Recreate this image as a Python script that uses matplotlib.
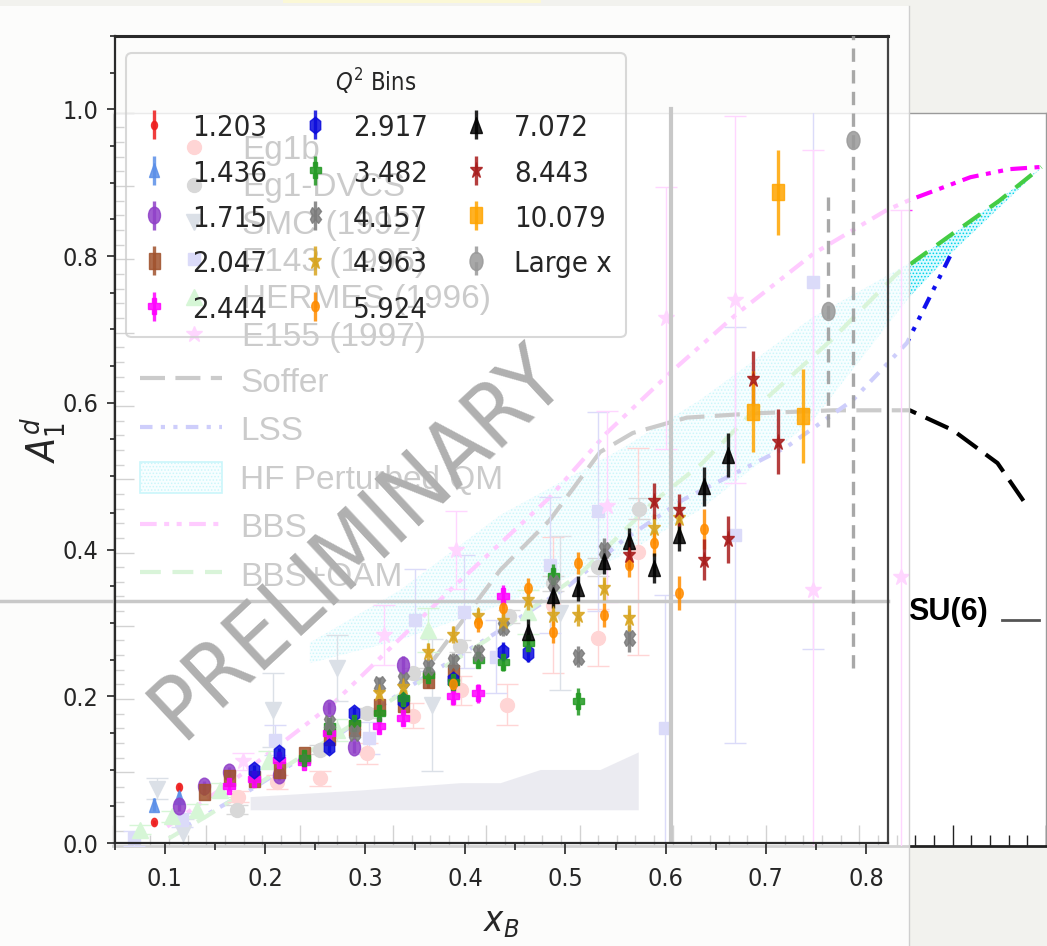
import matplotlib
matplotlib.use("Agg")
import matplotlib.pyplot as plt
from matplotlib import font_manager
from matplotlib.font_manager import FontProperties
from matplotlib.lines import Line2D
from matplotlib.markers import MarkerStyle
from matplotlib.patches import Patch, Rectangle
from matplotlib.ticker import MultipleLocator
from matplotlib.transforms import Affine2D

# ---------------- A1^d for each Q^2 bin: (x_B, A1, stat. error) ----------------
q2_labels = ['1.203', '1.436', '1.715', '2.047', '2.444', '2.917', '3.482',
             '4.157', '4.963', '5.924', '7.072', '8.443', '10.079', 'Large x']

bin_1p203 = [(0.089, 0.028, 0.004), (0.114, 0.076, 0.005)]
bin_1p436 = [(0.089, 0.052, 0.009), (0.114, 0.063, 0.008)]
bin_1p715 = [(0.114, 0.050, 0.006), (0.139, 0.078, 0.006), (0.164, 0.097, 0.006),
             (0.214, 0.093, 0.007), (0.264, 0.184, 0.008), (0.289, 0.131, 0.008),
             (0.338, 0.243, 0.012)]
bin_2p047 = [(0.139, 0.070, 0.005), (0.164, 0.088, 0.005), (0.189, 0.087, 0.006),
             (0.214, 0.100, 0.006), (0.239, 0.120, 0.007), (0.264, 0.145, 0.007),
             (0.289, 0.157, 0.008), (0.314, 0.186, 0.009), (0.338, 0.190, 0.010),
             (0.363, 0.222, 0.011), (0.388, 0.232, 0.013)]
bin_2p444 = [(0.164, 0.078, 0.006), (0.189, 0.087, 0.006), (0.214, 0.113, 0.007),
             (0.239, 0.110, 0.007), (0.264, 0.150, 0.008), (0.314, 0.159, 0.009),
             (0.338, 0.170, 0.010), (0.388, 0.200, 0.012), (0.413, 0.204, 0.013),
             (0.438, 0.336, 0.016)]
bin_2p917 = [(0.189, 0.100, 0.006), (0.214, 0.123, 0.007), (0.264, 0.131, 0.008),
             (0.289, 0.177, 0.009), (0.338, 0.195, 0.010), (0.388, 0.222, 0.012),
             (0.438, 0.261, 0.013), (0.463, 0.259, 0.012)]
bin_3p482 = [(0.239, 0.116, 0.007), (0.264, 0.159, 0.008), (0.289, 0.163, 0.008),
             (0.314, 0.177, 0.009), (0.338, 0.197, 0.010), (0.363, 0.229, 0.011),
             (0.388, 0.220, 0.011), (0.413, 0.250, 0.012), (0.438, 0.247, 0.013),
             (0.463, 0.272, 0.014), (0.488, 0.364, 0.016), (0.513, 0.193, 0.018)]
bin_4p157 = [(0.264, 0.163, 0.008), (0.289, 0.150, 0.008), (0.314, 0.217, 0.009),
             (0.338, 0.222, 0.010), (0.363, 0.240, 0.011), (0.388, 0.247, 0.012),
             (0.413, 0.259, 0.012), (0.438, 0.295, 0.013), (0.488, 0.354, 0.015),
             (0.513, 0.254, 0.014), (0.538, 0.400, 0.016), (0.563, 0.279, 0.018)]
bin_4p963 = [(0.314, 0.204, 0.009), (0.338, 0.213, 0.010), (0.363, 0.261, 0.011),
             (0.388, 0.284, 0.012), (0.413, 0.309, 0.012), (0.438, 0.302, 0.013),
             (0.463, 0.331, 0.014), (0.488, 0.311, 0.015), (0.513, 0.311, 0.015),
             (0.538, 0.347, 0.016), (0.563, 0.307, 0.018), (0.588, 0.429, 0.020),
             (0.613, 0.443, 0.021)]
bin_5p924 = [(0.388, 0.217, 0.010), (0.413, 0.300, 0.012), (0.438, 0.320, 0.013),
             (0.463, 0.347, 0.014), (0.488, 0.288, 0.015), (0.513, 0.382, 0.015),
             (0.538, 0.311, 0.016), (0.563, 0.379, 0.017), (0.588, 0.409, 0.018),
             (0.613, 0.341, 0.023), (0.638, 0.428, 0.027)]
bin_7p072 = [(0.463, 0.288, 0.018), (0.488, 0.338, 0.018), (0.513, 0.347, 0.017),
             (0.538, 0.384, 0.018), (0.563, 0.411, 0.019), (0.588, 0.375, 0.020),
             (0.613, 0.420, 0.022), (0.638, 0.486, 0.027), (0.662, 0.529, 0.030)]
bin_8p443 = [(0.563, 0.393, 0.020), (0.588, 0.466, 0.025), (0.613, 0.454, 0.022),
             (0.638, 0.386, 0.028), (0.662, 0.414, 0.032), (0.687, 0.633, 0.038),
             (0.712, 0.547, 0.044)]
bin_10p079 = [(0.687, 0.588, 0.055), (0.712, 0.887, 0.058), (0.737, 0.582, 0.064)]
bin_large_x = [(0.762, 0.725, 0.158), (0.787, 0.958, 0.720)]

q2_points = [bin_1p203, bin_1p436, bin_1p715, bin_2p047, bin_2p444, bin_2p917,
             bin_3p482, bin_4p157, bin_4p963, bin_5p924, bin_7p072, bin_8p443,
             bin_10p079, bin_large_x]

q2_colors = ['#ee1c1c', '#5b8fe8', '#9040c8', '#a0522d', '#ff00ff', '#0a0adc',
             '#229922', '#7a7a7a', '#d8a520', '#ff8c00', '#000000', '#a81c1c',
             '#ffa500', '#999999']
q2_markers = ['o', '^', 'o', 's', 'P', 'h', 'P', 'X', '*', 'o', '^', '*', 's', 'o']
q2_msizes = [6, 10, 12, 11, 12, 12, 11, 11, 13, 7.5, 12, 12, 12, 13]

SU6_LEVEL = 0.33     # SU(6) reference line
X_CUT = 0.605        # vertical guide

# ---------------- world data (x, A1, error) ----------------
eg1b = [(0.134, 0.067, 0.008), (0.176, 0.087, 0.010), (0.222, 0.092, 0.010),
        (0.272, 0.126, 0.014), (0.322, 0.177, 0.017), (0.373, 0.212, 0.020),
        (0.422, 0.192, 0.028), (0.472, 0.328, 0.093), (0.520, 0.284, 0.039),
        (0.563, 0.401, 0.141)]
eg1_dvcs = [(0.133, 0.049, 0.006), (0.222, 0.131, 0.006), (0.272, 0.181, 0.007),
            (0.322, 0.235, 0.008), (0.372, 0.272, 0.008), (0.424, 0.313, 0.009),
            (0.472, 0.358, 0.010), (0.520, 0.380, 0.012), (0.564, 0.460, 0.014)]
smc = [(0.047, 0.078, 0.014), (0.075, 0.017, 0.020), (0.171, 0.185, 0.050),
       (0.240, 0.242, 0.045), (0.342, 0.192, 0.090), (0.479, 0.317, 0.105)]
e143 = [(0.022, 0.010, 0.010), (0.074, 0.035, 0.010), (0.174, 0.144, 0.020),
        (0.274, 0.147, 0.022), (0.324, 0.308, 0.070), (0.376, 0.319, 0.077),
        (0.411, 0.258, 0.050), (0.468, 0.383, 0.093), (0.520, 0.456, 0.136),
        (0.592, 0.160, 0.182), (0.667, 0.424, 0.284), (0.750, 0.769, 0.500)]
hermes = [(0.029, 0.022, 0.006), (0.063, 0.040, 0.008), (0.090, 0.049, 0.008),
          (0.115, 0.076, 0.010), (0.167, 0.117, 0.012), (0.240, 0.158, 0.015),
          (0.338, 0.294, 0.030), (0.445, 0.319, 0.030)]
e155 = [(0.139, 0.115, 0.012), (0.290, 0.287, 0.041), (0.368, 0.403, 0.053),
        (0.529, 0.463, 0.130), (0.593, 0.720, 0.179), (0.667, 0.745, 0.250),
        (0.750, 0.349, 0.600), (0.845, 0.367, 0.500)]

world_sets = [eg1b, eg1_dvcs, smc, e143, hermes, e155]
world_labels = ['Eg1b', 'Eg1-DVCS', 'SMC (1992)', 'E143 (1995)', 'HERMES (1996)', 'E155 (1997)']
world_colors = ['#ff3030', '#404040', '#50698c', '#5050e6', '#37d637', '#ff37ff']
world_markers = ['o', 'o', 'v', 's', '^', '*']
world_msizes = [10, 10, 11, 9, 11, 12]

# ---------------- model curves ----------------
soffer_x = [0.343, 0.415, 0.468, 0.522, 0.557, 0.615, 0.690, 0.772, 0.854, 0.900, 0.948, 0.981]
soffer_y = [0.253, 0.376, 0.444, 0.537, 0.563, 0.584, 0.590, 0.594, 0.594, 0.567, 0.522, 0.461]

lss_x = [0.072, 0.147, 0.233, 0.329, 0.415, 0.487, 0.547, 0.611, 0.722, 0.793, 0.851, 0.899]
lss_y = [0.022, 0.076, 0.144, 0.226, 0.294, 0.353, 0.417, 0.472, 0.544, 0.608, 0.686, 0.809]

hf_x = [0.211, 0.308, 0.415, 0.543, 0.629, 0.750, 0.854, 0.899, 0.996]
hf_upper = [0.277, 0.349, 0.451, 0.540, 0.608, 0.721, 0.795, 0.833, 0.926]
hf_lower = [0.249, 0.281, 0.328, 0.394, 0.458, 0.580, 0.749, 0.809, 0.926]

bbs_x = [0.058, 0.129, 0.236, 0.364, 0.468, 0.529, 0.597, 0.669, 0.751, 0.829, 0.854, 0.919, 0.961, 0.995]
bbs_y = [0.026, 0.089, 0.194, 0.352, 0.475, 0.563, 0.645, 0.726, 0.808, 0.867, 0.881, 0.912, 0.923, 0.926]

bbs_oam_x = [0.06, 0.10, 0.20, 0.30, 0.40, 0.50, 0.58, 0.63, 0.70, 0.77, 0.84, 0.90, 0.95, 0.995]
bbs_oam_y = [0.01, 0.04, 0.12, 0.20, 0.28, 0.37, 0.47, 0.52, 0.61, 0.69, 0.78, 0.835, 0.88, 0.926]

syst_x = [0.147, 0.265, 0.372, 0.415, 0.458, 0.522, 0.563]
syst_top = [0.067, 0.076, 0.086, 0.086, 0.104, 0.104, 0.128]
SYST_BASE = 0.049

SU6_WORLD = 0.308
su6_mark_x = [0.953, 0.992]

# ---------------- fonts ----------------
installed = {(f.name, f.stretch) for f in font_manager.fontManager.ttflist}
family_names = {n for n, _ in installed}
if ('DejaVu Sans', 'condensed') in installed:
    plt.rcParams['font.family'] = 'DejaVu Sans'
    plt.rcParams['font.stretch'] = 'condensed'
elif 'Liberation Sans Narrow' in family_names:
    plt.rcParams['font.family'] = 'Liberation Sans Narrow'
plt.rcParams['hatch.linewidth'] = 0.7

TEXT = '#262626'
ARIAL = FontProperties(family='Liberation Sans', stretch='normal', size=24)

W, H = 1047, 946


def fig_rect(left, top, right, bottom):
    """pixel box, origin top-left -> [l, b, w, h] in figure fraction"""
    return [left / W, 1 - bottom / H, (right - left) / W, (bottom - top) / H]


def narrow(marker):
    return MarkerStyle(marker, transform=Affine2D().scale(0.72, 1.0))


fig = plt.figure(figsize=(W / 100, H / 100), dpi=100)
fig.patch.set_facecolor('#f2f2ee')

# ======== world-data plot underneath ========
axw = fig.add_axes(fig_rect(113, 112.7, 1046, 845.7), zorder=0)
axw.set_facecolor('white')
axw.set_xlim(0, 1)
axw.set_ylim(0, 1)
axw.xaxis.set_major_locator(MultipleLocator(0.1))
axw.xaxis.set_minor_locator(MultipleLocator(0.02))
axw.yaxis.set_major_locator(MultipleLocator(0.1))
axw.yaxis.set_minor_locator(MultipleLocator(0.02))
axw.tick_params(which='both', direction='in', colors='#222222', width=1,
                labelbottom=False, labelleft=False)
axw.tick_params(which='major', length=15)
axw.tick_params(which='minor', length=8)
axw.spines['bottom'].set_linewidth(2)
axw.spines['bottom'].set_color('#222222')
axw.spines['left'].set_color('#222222')
for side in ('top', 'right'):
    axw.spines[side].set_color('#9a9a9a')
    axw.spines[side].set_linewidth(1)

axw.fill_between(syst_x, SYST_BASE, syst_top, color='#a0a0be', lw=0, zorder=1)
hf = axw.fill_between(hf_x, hf_lower, hf_upper, facecolor='#dcfbff', edgecolor='#00d2ea',
                      hatch='.....', linewidth=0, zorder=1.5)
soffer, = axw.plot(soffer_x, soffer_y, color='black', lw=3, dashes=(6, 2.5), zorder=2)
lss, = axw.plot(lss_x, lss_y, color='#1010ee', lw=3, dashes=(3, 2, 1, 2, 1, 2), zorder=2)
bbs, = axw.plot(bbs_x, bbs_y, color='#ff00ff', lw=3, dashes=(4, 1.8, 1.2, 1.8, 1.2, 1.8), zorder=2)
bbs_oam, = axw.plot(bbs_oam_x, bbs_oam_y, color='#44cc44', lw=3, dashes=(5, 2.8), zorder=2)

for pts, col, mk, ms in zip(world_sets, world_colors, world_markers, world_msizes):
    x, y, e = zip(*pts)
    axw.errorbar(x, y, yerr=e, linestyle='none', marker=mk, ms=ms, color=col,
                 mec=col, elinewidth=1, capsize=8, capthick=1, zorder=3)

axw.plot(su6_mark_x, [SU6_WORLD, SU6_WORLD], color='#555555', lw=2)
axw.text(0.852, 0.319, 'SU(6)', fontproperties=FontProperties(family='Liberation Sans',
         weight='bold', size=22), ha='left', va='center', color='black')

data_handles = [Line2D([], [], linestyle='none', marker=mk, ms=ms, color=col)
                for col, mk, ms in zip(world_colors, world_markers, world_msizes)]
leg_data = axw.legend(data_handles, world_labels, loc='upper left',
                      bbox_to_anchor=(160.7 / W, 1 - 135 / H), bbox_transform=fig.transFigure,
                      frameon=False, borderpad=0, borderaxespad=0, handlelength=2.0,
                      handletextpad=0.44, labelspacing=0.19, prop=ARIAL)
axw.add_artist(leg_data)
hf_handle = Patch(facecolor='#dcfbff', edgecolor='#00d2ea', hatch='.....', lw=1.2)
axw.legend([soffer, lss, hf_handle, bbs, bbs_oam],
           ['Soffer', 'LSS', 'HF Perturbed QM', 'BBS', 'BBS+OAM'], loc='upper left',
           bbox_to_anchor=(140 / W, 1 - 365 / H), bbox_transform=fig.transFigure,
           frameon=False, borderpad=0, borderaxespad=0, handlelength=2.46,
           handleheight=1.05, handletextpad=0.54, labelspacing=0.44, prop=ARIAL)

# translucent sheet carrying the new results
fig.add_artist(Rectangle((0, 0), 909 / W, 1 - 6 / H, transform=fig.transFigure,
                         facecolor='white', edgecolor='none', alpha=0.8, zorder=1))
fig.add_artist(Line2D([909 / W, 909 / W], [0, 1 - 6 / H], transform=fig.transFigure,
                      color='#cfcfcf', lw=1, zorder=3))
fig.add_artist(Rectangle((283 / W, 1 - 3 / H), 258 / W, 3 / H, transform=fig.transFigure,
                         facecolor='#fbf8d6', edgecolor='none', zorder=3))

# ======== new A1^d results ========
ax = fig.add_axes(fig_rect(114.7, 36, 888, 843), zorder=2)
ax.set_facecolor('none')
ax.set_xlim(0.05, 0.822)
ax.set_ylim(0, 1.1)
ax.xaxis.set_major_locator(MultipleLocator(0.1))
ax.xaxis.set_minor_locator(MultipleLocator(0.05))
ax.yaxis.set_major_locator(MultipleLocator(0.2))
ax.yaxis.set_minor_locator(MultipleLocator(0.05))
ax.tick_params(which='both', direction='out', colors=TEXT, width=1.2, labelsize=18)
ax.tick_params(axis='x', which='major', length=8, pad=9)
ax.tick_params(axis='x', which='minor', length=5)
ax.tick_params(axis='y', which='major', length=6, pad=6)
ax.tick_params(axis='y', which='minor', length=3.5)
for side in ax.spines:
    ax.spines[side].set_color('#2a2a2a')
    ax.spines[side].set_linewidth(1.6)
ax.spines['top'].set_linewidth(2.2)
ax.spines['right'].set_color('#444444')

ax.set_xlabel('$x_B$', fontsize=26, color=TEXT, labelpad=10)
ax.set_ylabel('$A_1^d$', fontsize=28, color=TEXT, labelpad=-4)

ax.plot([-0.15, 1.0], [SU6_LEVEL, SU6_LEVEL], transform=ax.get_yaxis_transform(),
        clip_on=False, color='#c8c8c8', lw=2.5, zorder=1)
ax.plot([X_CUT, X_CUT], [0, 1.0], color='#c8c8c8', lw=3, zorder=1)

ax.text(0.292, 0.409, 'PRELIMINARY', rotation=43, fontsize=64, color='#b0b0b0',
        ha='center', va='center', rotation_mode='anchor', zorder=1.5)

for pts, lab, col, mk, ms in zip(q2_points, q2_labels, q2_colors, q2_markers, q2_msizes):
    x, y, e = zip(*pts)
    cont = ax.errorbar(x, y, yerr=e, linestyle='none', marker=narrow(mk), ms=ms,
                       color=col, mec=col, elinewidth=2.4, capsize=0, alpha=0.85,
                       label=lab, zorder=3)
    if lab == 'Large x':
        for bars in cont[2]:
            bars.set_linestyle((0, (4, 2.5)))

leg = ax.legend(ncol=3, title='$Q^2$ Bins', loc='upper left',
                bbox_to_anchor=(0.0146, 0.979), borderaxespad=0, fontsize=21,
                title_fontsize=17, handlelength=1.0, handleheight=1.0,
                handletextpad=0.8, columnspacing=1.15, labelspacing=0.56,
                borderpad=0.47, fancybox=True, facecolor='none', edgecolor='#cfcfcf',
                labelcolor=TEXT)
leg.get_title().set_color(TEXT)
leg.get_frame().set_linewidth(1.5)

fig.savefig('out.png', dpi=100, facecolor=fig.get_facecolor())
